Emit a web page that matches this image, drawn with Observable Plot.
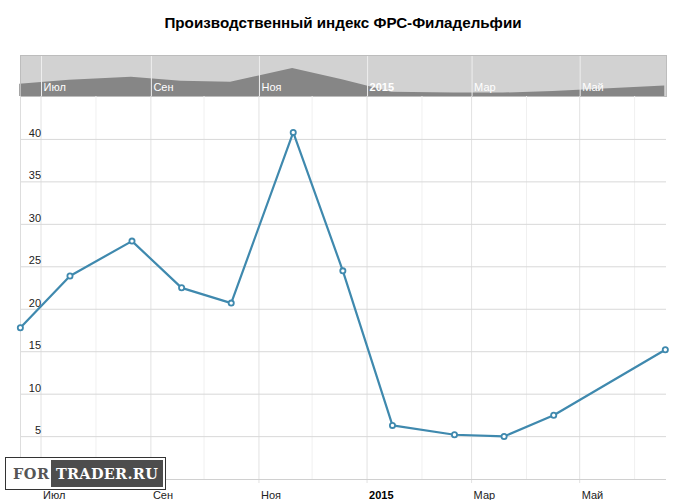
<!DOCTYPE html>
<html><head><meta charset="utf-8">
<script src="https://cdn.jsdelivr.net/npm/d3@7"></script>
<script src="https://cdn.jsdelivr.net/npm/@observablehq/plot@0.6"></script>
<style>
html,body{margin:0;padding:0;background:#fff}
#page{position:relative;width:686px;height:500px;overflow:hidden;font-family:"Liberation Sans",Arial,sans-serif}
#title{position:absolute;left:0;width:686px;top:14px;text-align:center;font-weight:bold;font-size:15.2px;line-height:18px;color:#000}
#over,#main{position:absolute;left:0}
#over{top:55px}#main{top:96px}
svg{display:block;overflow:visible}
#wm{position:absolute;left:5px;top:457px;width:159px;height:31px;border:1px solid #333;background:#fff;box-sizing:content-box;font-family:"DejaVu Serif",serif;font-weight:bold;font-size:14.5px;line-height:27px}
#wm .a{position:absolute;left:7px;top:2px;color:#555;letter-spacing:.5px}
#wm .b{position:absolute;left:45px;top:2px;width:112px;height:27px;background:#4d4d4d;color:#fff;text-align:center;letter-spacing:.3px}
</style></head><body>
<div id="page">
<div id="title">Производственный индекс ФРС-Филадельфии</div>
<div id="over"></div><div id="main"></div>
<div id="wm"><span class="a">FOR</span><span class="b">TRADER.RU</span></div>
</div>
<script>
const dates = ["2014-06-19","2014-07-17","2014-08-21","2014-09-18","2014-10-16","2014-11-20","2014-12-18","2015-01-15","2015-02-19","2015-03-19","2015-04-16","2015-06-18"];
const values = [17.8,23.9,28.0,22.5,20.7,40.8,24.5,6.3,5.2,5.0,7.5,15.2];
const majorMonths = ["2014-07-01","2014-09-01","2014-11-01","2015-01-01","2015-03-01","2015-05-01"];
const monthLabels = ["Июл","Сен","Ноя","2015","Мар","Май"];
const minorMonths = ["2014-08-01","2014-10-01","2014-12-01","2015-02-01","2015-04-01","2015-06-01"];
const yTicks = [5,10,15,20,25,30,35,40];
const xDomain = ["2014-06-19T10:00Z","2015-06-19T00:00Z"];

const toDate = s => new Date(s.length > 10 ? s : s + "T00:00Z");
const series = dates.map((s,i)=>({date:toDate(s),value:values[i]}));
const major = majorMonths.map((s,i)=>({date:toDate(s),label:monthLabels[i],bold:monthLabels[i]==="2015"}));
const minor = minorMonths.map(s=>toDate(s));
const font = '"Liberation Sans",Arial,sans-serif';
const x = {type:"utc",domain:xDomain.map(s=>toDate(s))};

document.getElementById("over").append(Plot.plot({
  width:686,height:41,marginLeft:20,marginRight:20,marginTop:0,marginBottom:0,
  x:{...x,axis:null},y:{domain:[0,60],axis:null},
  style:{background:"transparent",fontFamily:font},
  marks:[
    Plot.frame({fill:"#d2d2d2",stroke:"none"}),
    Plot.areaY(series,{x:"date",y:"value",fill:"#868686"}),
    Plot.ruleX(major,{x:"date",stroke:"#eeeeee",strokeWidth:1,dx:0.5}),
    Plot.text(major.filter(m=>!m.bold),{x:"date",frameAnchor:"bottom",text:"label",textAnchor:"start",dx:2.5,dy:-6,fill:"#fff",fontSize:11}),
    Plot.text(major.filter(m=>m.bold),{x:"date",frameAnchor:"bottom",text:"label",textAnchor:"start",dx:2.5,dy:-6,fill:"#fff",fontSize:11,fontWeight:"bold"}),
    Plot.frame({stroke:"#bdbdbd",strokeWidth:1,fill:"none"})
  ]
}));

document.getElementById("main").append(Plot.plot({
  width:686,height:404,marginLeft:20,marginRight:20,marginTop:0,marginBottom:21,
  x:{...x,axis:null},y:{domain:[0,45.1],axis:null},
  style:{background:"transparent",fontFamily:font},
  marks:[
    Plot.ruleX(minor,{stroke:"#f0f0f0"}),
    Plot.ruleX(major,{x:"date",stroke:"#e2e2e2",insetBottom:-4}),
    Plot.ruleY(yTicks,{stroke:"#d8d8d8",dy:-0.4}),
    Plot.ruleY([0],{stroke:"#d0d0d0"}),
    Plot.ruleX([toDate(xDomain[0])],{stroke:"#dddddd"}),
    Plot.text(yTicks,{x:()=>toDate(majorMonths[0]),y:v=>v,text:v=>String(v),textAnchor:"end",dx:0,dy:-6.5,fill:"#222",fontSize:11}),
    Plot.line(series,{x:"date",y:"value",stroke:"#3f89ae",strokeWidth:2.2,dx:0.6,dy:-0.6}),
    Plot.dot(series,{x:"date",y:"value",r:2.6,fill:"#fff",stroke:"#3f89ae",strokeWidth:1.8,dx:0.6,dy:-0.6}),
    Plot.text(major.filter(m=>!m.bold),{x:"date",frameAnchor:"bottom",text:"label",textAnchor:"start",dx:2,dy:19,fill:"#222",fontSize:11}),
    Plot.text(major.filter(m=>m.bold),{x:"date",frameAnchor:"bottom",text:"label",textAnchor:"start",dx:2,dy:19,fill:"#000",fontSize:11,fontWeight:"bold"})
  ]
}));
</script>
</body></html>
